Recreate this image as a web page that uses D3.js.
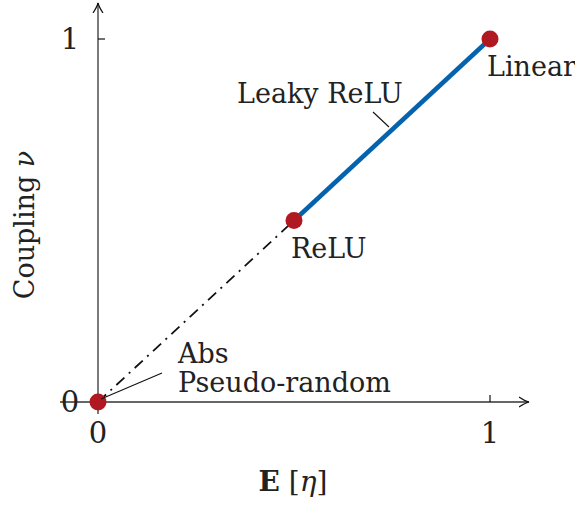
<!DOCTYPE html>
<html>
<head>
<meta charset="utf-8">
<script src="https://cdn.jsdelivr.net/npm/d3@7"></script>
<style>
  body { margin: 0; background: #fff; }
  text { font-family: "DejaVu Serif", "Liberation Serif", serif; fill: #222; }
</style>
</head>
<body>
<svg id="chart" width="575" height="506"></svg>
<script>
// activation functions placed on the (E[eta], coupling) plane
const names = ["Pseudo-random", "ReLU", "Linear"];
const meanEta = [0, 0.5, 1];
const coupling = [0, 0.5, 1];
// Leaky ReLU spans ReLU -> Linear, Abs / Pseudo-random sit at the origin
const leakyX = [0.5, 1];
const leakyY = [0.5, 1];
const dashX = [0, 0.5];
const dashY = [0, 0.5];
const xTicks = [0, 1];
const yTicks = [0, 1];

const svg = d3.select("#chart");
const x = d3.scaleLinear().domain([0, 1]).range([98, 490]);
const y = d3.scaleLinear().domain([0, 1]).range([402, 39]);
const ink = "#333";

// arrow heads, latex style
const defs = svg.append("defs");
defs.append("marker")
  .attr("id", "arr")
  .attr("viewBox", "-10 -6 12 12")
  .attr("refX", 0)
  .attr("refY", 0)
  .attr("markerWidth", 12)
  .attr("markerHeight", 12)
  .attr("markerUnits", "userSpaceOnUse")
  .attr("orient", "auto")
  .append("path")
  .attr("d", "M-10,-5 Q-4,-1 0,0 Q-4,1 -10,5")
  .attr("fill", "none")
  .attr("stroke", "#111")
  .attr("stroke-width", 1.2);

// axes
svg.append("line")
  .attr("x1", x(0) - 38).attr("y1", y(0))
  .attr("x2", x(0) + 431).attr("y2", y(0))
  .attr("stroke", ink).attr("stroke-width", 1.3)
  .attr("marker-end", "url(#arr)");
svg.append("line")
  .attr("x1", x(0)).attr("y1", y(0) + 12)
  .attr("x2", x(0)).attr("y2", 3)
  .attr("stroke", ink).attr("stroke-width", 1.3)
  .attr("marker-end", "url(#arr)");

// ticks
svg.selectAll(".xt").data(xTicks.filter(d => d > 0)).enter().append("line")
  .attr("x1", d => x(d)).attr("x2", d => x(d))
  .attr("y1", y(0)).attr("y2", y(0) - 7)
  .attr("stroke", "#111").attr("stroke-width", 1.2);
svg.selectAll(".yt").data(yTicks.filter(d => d > 0)).enter().append("line")
  .attr("y1", d => y(d)).attr("y2", d => y(d))
  .attr("x1", x(0)).attr("x2", x(0) + 7)
  .attr("stroke", "#111").attr("stroke-width", 1.2);

svg.selectAll(".xl").data(xTicks).enter().append("text")
  .attr("x", d => x(d)).attr("y", y(0) + 41)
  .attr("text-anchor", "middle")
  .style("font-size", "29px")
  .text(d => d);
svg.selectAll(".yl").data(yTicks).enter().append("text")
  .attr("x", 70).attr("y", d => y(d) + 10)
  .attr("text-anchor", "middle")
  .style("font-size", "29px")
  .text(d => d);

// axis titles
svg.append("text")
  .attr("transform", "translate(34,225) rotate(-90)")
  .attr("text-anchor", "middle")
  .style("font-size", "27px")
  .call(t => {
    t.append("tspan").text("Coupling ");
    t.append("tspan").style("font-style", "italic").text("ν");
  });
svg.append("text")
  .attr("x", 293).attr("y", 491)
  .attr("text-anchor", "middle")
  .style("font-size", "28px")
  .call(t => {
    t.append("tspan").style("font-weight", "bold").text("E");
    t.append("tspan").text(" [");
    t.append("tspan").style("font-style", "italic").text("η");
    t.append("tspan").text("]");
  });

// dash-dot segment origin -> ReLU
const line = d3.line().x(d => x(d[0])).y(d => y(d[1]));
svg.append("path")
  .attr("d", line(d3.zip(dashX, dashY)))
  .attr("fill", "none")
  .attr("stroke", "#111")
  .attr("stroke-width", 1.8)
  .attr("stroke-dasharray", "11,6,2,6");

// leaky relu segment
svg.append("path")
  .attr("d", line(d3.zip(leakyX, leakyY)))
  .attr("fill", "none")
  .attr("stroke", "#0563ae")
  .attr("stroke-width", 4.5);

// points
svg.selectAll(".pt").data(d3.range(names.length)).enter().append("circle")
  .attr("cx", i => x(meanEta[i]))
  .attr("cy", i => y(coupling[i]))
  .attr("r", 8.5)
  .attr("fill", "#b01822");

// leader lines
svg.append("line")
  .attr("x1", x(0) + 3).attr("y1", y(0) - 3)
  .attr("x2", 162).attr("y2", 373)
  .attr("stroke", "#111").attr("stroke-width", 1.1);
svg.append("line")
  .attr("x1", 373).attr("y1", 112)
  .attr("x2", 389).attr("y2", 127)
  .attr("stroke", "#111").attr("stroke-width", 1.1);

// labels
const lab = (tx, ty, s) => svg.append("text")
  .attr("x", tx).attr("y", ty)
  .style("font-size", "27px")
  .text(s);
lab(x(1) - 3, y(1) + 37, names[2]);
lab(x(0.5) - 3, y(0.5) + 37, names[1]);
lab(237, 103, "Leaky ReLU");
lab(178, 363, "Abs");
lab(178, 392, names[0]);
</script>
</body>
</html>
